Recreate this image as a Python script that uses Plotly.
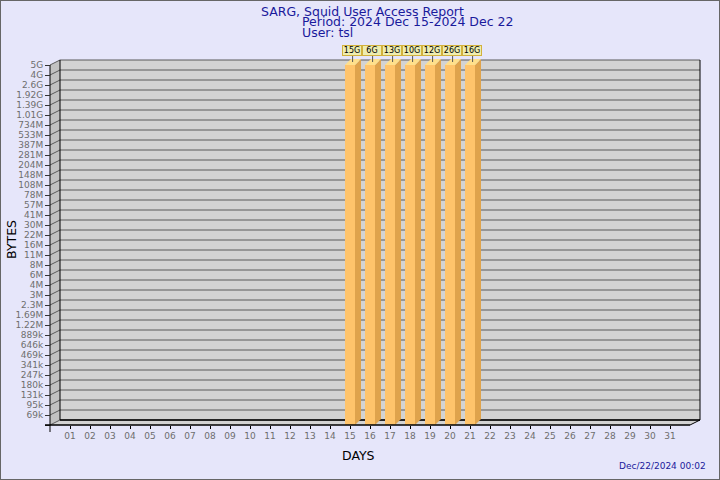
import numpy as np
import plotly.graph_objects as go

# ---- data ----
ytick_labels = ["69k", "95k", "131k", "180k", "247k", "341k", "469k", "646k", "889k",
                "1.22M", "1.69M", "2.3M", "3M", "4M", "6M", "8M", "11M", "16M", "22M",
                "30M", "41M", "57M", "78M", "108M", "148M", "204M", "281M", "387M",
                "533M", "734M", "1.01G", "1.39G", "1.92G", "2.6G", "4G", "5G"]
ytick_bytes = [69e3, 95e3, 131e3, 180e3, 247e3, 341e3, 469e3, 646e3, 889e3,
               1.22e6, 1.69e6, 2.3e6, 3e6, 4e6, 6e6, 8e6, 11e6, 16e6, 22e6,
               30e6, 41e6, 57e6, 78e6, 108e6, 148e6, 204e6, 281e6, 387e6,
               533e6, 734e6, 1.01e9, 1.39e9, 1.92e9, 2.6e9, 4e9, 5e9]
days_all = list(range(1, 32))
bar_days = [15, 16, 17, 18, 19, 20, 21]
bar_gb = [15, 6, 13, 10, 12, 26, 16]

# map values onto the chart's stepped log scale (tick index), clipped at the top
tick_idx = np.arange(1, len(ytick_bytes) + 1)
def to_idx(v):
    return float(np.interp(np.log(v), np.log(ytick_bytes), tick_idx,
                           left=0, right=tick_idx[-1]))
heights = [to_idx(g * 1e9) for g in bar_gb]
NT = len(ytick_labels)  # 36

FONT = "DejaVu Sans"
NAVY = "#1a1a9c"
GRAY_TXT = "#6e6e6e"
DX, DY = 0.5, 0.5       # wall depth
BDX, BDY = 0.3, 0.6     # bar depth
BW = 0.5

fig = go.Figure()

# bars: front faces
fig.add_trace(go.Bar(x=bar_days, y=heights, width=BW, marker=dict(color="#FFC46B", line=dict(width=0)),
                     hoverinfo="skip", showlegend=False))
# side + top faces
for d, h in zip(bar_days, heights):
    xr = d + BW / 2
    xl = d - BW / 2
    fig.add_trace(go.Scatter(x=[xr, xr, xr + BDX, xr + BDX, xr], y=[0, h, h + BDY, BDY, 0],
                             fill="toself", fillcolor="#DFA34C", mode="lines", line=dict(width=0),
                             hoverinfo="skip", showlegend=False))
    fig.add_trace(go.Scatter(x=[xl, xr, xr + BDX, xl + BDX, xl], y=[h, h, h + BDY, h + BDY, h],
                             fill="toself", fillcolor="#FFE08C", mode="lines", line=dict(width=0),
                             hoverinfo="skip", showlegend=False))
    # leader line to label
    fig.add_trace(go.Scatter(x=[d + 0.13, d + 0.13], y=[h + 0.3, NT + 1.0], mode="lines",
                             line=dict(color="#555555", width=1), hoverinfo="skip", showlegend=False))

shapes = []
# back wall
shapes.append(dict(type="rect", xref="x", yref="y", x0=DX, x1=32 + DX, y0=DY, y1=NT + DY,
                   fillcolor="#D3D3D3", line=dict(width=0), layer="below"))
# left wall
shapes.append(dict(type="path", xref="x", yref="y",
                   path=f"M 0 0 L 0 {NT} L {DX} {NT+DY} L {DX} {DY} Z",
                   fillcolor="#C2C2C2", line=dict(width=0), layer="below"))
# floor
shapes.append(dict(type="path", xref="x", yref="y",
                   path=f"M 0 0 L 32 0 L {32+DX} {DY} L {DX} {DY} Z",
                   fillcolor="#D3D3D3", line=dict(width=0), layer="below"))
# grid lines on back wall and diagonal ticks on left wall
for i in range(NT + 1):
    shapes.append(dict(type="line", xref="x", yref="y", x0=DX, x1=32 + DX, y0=i + DY, y1=i + DY,
                       line=dict(color="#5a5a5a", width=1), layer="below"))
    shapes.append(dict(type="line", xref="x", yref="y", x0=0, x1=DX, y0=i, y1=i + DY,
                       line=dict(color="#5a5a5a", width=1), layer="below"))
# outlines
shapes.append(dict(type="line", xref="x", yref="y", x0=32 + DX, x1=32 + DX, y0=DY, y1=NT + DY,
                   line=dict(color="black", width=1), layer="below"))
shapes.append(dict(type="line", xref="x", yref="y", x0=DX, x1=DX, y0=DY, y1=NT + DY,
                   line=dict(color="black", width=1), layer="below"))
shapes.append(dict(type="line", xref="x", yref="y", x0=DX, x1=32 + DX, y0=DY, y1=DY,
                   line=dict(color="black", width=1.5), layer="below"))
shapes.append(dict(type="line", xref="x", yref="y", x0=0, x1=0, y0=-0.7, y1=NT,
                   line=dict(color="black", width=1), layer="below"))
shapes.append(dict(type="line", xref="x", yref="y", x0=-0.25, x1=32, y0=0, y1=0,
                   line=dict(color="black", width=1.5), layer="above"))
shapes.append(dict(type="line", xref="x", yref="y", x0=32, x1=32 + DX, y0=0, y1=DY,
                   line=dict(color="black", width=1), layer="above"))
# image border
shapes.append(dict(type="rect", xref="paper", yref="paper", x0=0, x1=1, y0=0, y1=1,
                   line=dict(color="#666666", width=2), layer="above"))

annotations = []
for d, g in zip(bar_days, bar_gb):
    annotations.append(dict(x=d + 0.12, y=NT + 1.5, xref="x", yref="y", text=f"{g}G",
                            showarrow=False, font=dict(family=FONT, size=8, color="black"),
                            bgcolor="#EEEDB0", bordercolor="#D2B13C", borderwidth=1, borderpad=0,
                            width=18, height=9))

def P(px, py):
    return px / 720, 1 - py / 480

TS = 12.5
tx, ty = P(362, 11)
annotations.append(dict(x=tx, y=ty, xref="paper", yref="paper", text="SARG, Squid User Access Report",
                        showarrow=False, xanchor="center", yanchor="middle",
                        font=dict(family=FONT, size=TS, color=NAVY)))
tx, ty = P(300, 22)
annotations.append(dict(x=tx, y=ty, xref="paper", yref="paper", text="Period: 2024 Dec 15-2024 Dec 22",
                        showarrow=False, xanchor="left", yanchor="middle",
                        font=dict(family=FONT, size=TS, color=NAVY)))
tx, ty = P(300, 33)
annotations.append(dict(x=tx, y=ty, xref="paper", yref="paper", text="User: tsl",
                        showarrow=False, xanchor="left", yanchor="middle",
                        font=dict(family=FONT, size=TS, color=NAVY)))
tx, ty = P(11, 240)
annotations.append(dict(x=tx, y=ty, xref="paper", yref="paper", text="BYTES", textangle=-90,
                        showarrow=False, xanchor="center", yanchor="middle",
                        font=dict(family=FONT, size=12.5, color="black")))
tx, ty = P(358, 455)
annotations.append(dict(x=tx, y=ty, xref="paper", yref="paper", text="DAYS",
                        showarrow=False, xanchor="center", yanchor="middle",
                        font=dict(family=FONT, size=12.5, color="black")))
tx, ty = P(708, 466)
annotations.append(dict(x=tx, y=ty, xref="paper", yref="paper", text="Dec/22/2024 00:02",
                        showarrow=False, xanchor="right", yanchor="middle",
                        font=dict(family=FONT, size=9, color=NAVY)))

fig.update_layout(
    width=720, height=480,
    margin=dict(l=0, r=0, t=0, b=0),
    paper_bgcolor="#E6E6FA", plot_bgcolor="rgba(0,0,0,0)",
    shapes=shapes, annotations=annotations, bargap=0,
    xaxis=dict(range=[-1, 33], domain=[30 / 720, 710 / 720], anchor="free", position=55 / 480,
               tickvals=days_all, ticktext=[f"{d:02d}" for d in days_all],
               ticks="outside", ticklen=3, tickcolor="black", showgrid=False, zeroline=False,
               showline=False, ticklabelstandoff=-1,
               tickfont=dict(family=FONT, size=9, color=GRAY_TXT)),
    yaxis=dict(range=[-2, 40], domain=[35 / 480, 455 / 480], anchor="free", position=50 / 720,
               tickvals=list(range(NT + 1)), ticktext=[""] + ytick_labels,
               ticks="outside", ticklen=5, tickcolor="#333333", showgrid=False, zeroline=False,
               showline=False, tickfont=dict(family=FONT, size=9, color=GRAY_TXT)),
)

fig.write_html("out.html", config={"displayModeBar": False},
               post_script="document.body.style.margin='0';document.body.style.overflow='hidden';")
